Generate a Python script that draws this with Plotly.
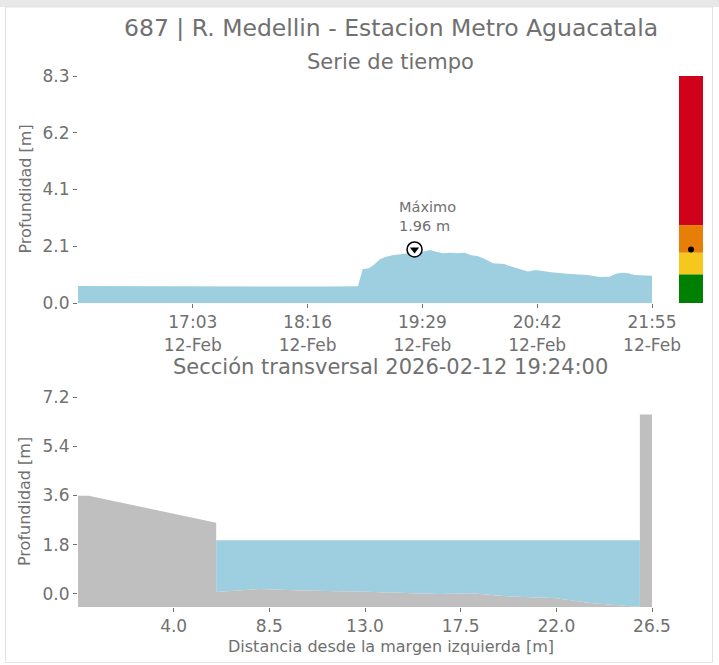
import plotly.graph_objects as go

# ---------------- data ----------------
station_title = "687 | R. Medellin - Estacion Metro Aguacatala"
ts_title = "Serie de tiempo"
sec_title = "Sección transversal 2026-02-12 19:24:00"

ts_times = [
    "2026-02-12 15:50", "2026-02-12 16:30", "2026-02-12 17:10", "2026-02-12 17:50",
    "2026-02-12 18:30", "2026-02-12 18:48", "2026-02-12 18:50", "2026-02-12 18:51",
    "2026-02-12 18:55", "2026-02-12 18:58", "2026-02-12 19:02", "2026-02-12 19:06",
    "2026-02-12 19:10", "2026-02-12 19:15", "2026-02-12 19:20", "2026-02-12 19:26",
    "2026-02-12 19:31", "2026-02-12 19:34", "2026-02-12 19:37", "2026-02-12 19:42",
    "2026-02-12 19:47", "2026-02-12 19:51", "2026-02-12 19:56", "2026-02-12 20:00",
    "2026-02-12 20:04", "2026-02-12 20:08", "2026-02-12 20:14", "2026-02-12 20:21",
    "2026-02-12 20:24", "2026-02-12 20:29", "2026-02-12 20:36", "2026-02-12 20:41",
    "2026-02-12 20:51", "2026-02-12 21:01", "2026-02-12 21:14", "2026-02-12 21:22",
    "2026-02-12 21:28", "2026-02-12 21:32", "2026-02-12 21:36", "2026-02-12 21:40",
    "2026-02-12 21:44", "2026-02-12 21:55",
]
ts_depth = [
    0.62, 0.61, 0.61, 0.60,
    0.60, 0.61, 1.09, 1.23,
    1.27, 1.39, 1.60, 1.69,
    1.75, 1.79, 1.82, 1.84,
    1.91, 1.94, 1.88, 1.82,
    1.84, 1.82, 1.84, 1.75,
    1.72, 1.63, 1.45, 1.43,
    1.36, 1.27, 1.15, 1.21,
    1.12, 1.07, 1.02, 0.95,
    0.96, 1.07, 1.11, 1.09,
    1.02, 1.00,
]
ts_range = ["2026-02-12 15:50", "2026-02-12 21:55"]
ts_tickvals = ["2026-02-12 17:03", "2026-02-12 18:16", "2026-02-12 19:29",
               "2026-02-12 20:42", "2026-02-12 21:55"]
ts_ticktext = ["17:03<br>12-Feb", "18:16<br>12-Feb", "19:29<br>12-Feb",
               "20:42<br>12-Feb", "21:55<br>12-Feb"]
ts_yticks = [0.0, 2.075, 4.15, 6.225, 8.3]
ts_yticktext = ["0.0", "2.1", "4.1", "6.2", "8.3"]

max_time = "2026-02-12 19:24"
max_depth = 1.96

# alert level bands (base, top)
level_base = [0.0, 1.05, 1.84, 2.85]
level_top = [1.05, 1.84, 2.85, 8.3]
level_colors = ["#008000", "#f6c81d", "#e67e07", "#d0011b"]

# cross section profile (bed elevation along the section)
sec_x = [-0.5, 0.0, 6.0, 6.0, 8.07, 10.0, 13.0, 16.5, 18.0, 19.8, 21.9, 23.6, 25.93, 25.93, 26.5]
sec_z = [3.59, 3.59, 2.60, 0.07, 0.18, 0.12, 0.08, 0.00, 0.02, -0.10, -0.15, -0.33, -0.48, 6.56, 6.56]
water_x = [6.0, 8.07, 10.0, 13.0, 16.5, 18.0, 19.8, 21.9, 23.6, 25.93]
water_bed = [0.07, 0.18, 0.12, 0.08, 0.00, 0.02, -0.10, -0.15, -0.33, -0.48]
water_level = 1.96
sec_xticks = [4.0, 8.5, 13.0, 17.5, 22.0, 26.5]
sec_yticks = [0.0, 1.8, 3.6, 5.4, 7.2]
sec_yrange = [-0.48, 7.2]
sec_xrange = [-0.5, 26.5]

# ---------------- styling ----------------
W, H = 719, 665
ML, MR, MT, MB = 78, 16, 76, 58
PW, PH = W - ML - MR, H - MT - MB
TXT = "#707070"
FONT = "DejaVu Sans"
WATER = "#9ecfe0"
GROUND = "#bfbfbf"


def px(xp):
    return (xp - ML) / PW


def py(yp):
    return (H - MB - yp) / PH


fig = go.Figure()

# time series
fig.add_trace(go.Scatter(x=ts_times, y=ts_depth, mode="lines", fill="tozeroy",
                         line=dict(color=WATER, width=0), fillcolor=WATER,
                         xaxis="x", yaxis="y", hoverinfo="skip"))
fig.add_trace(go.Scatter(x=[max_time], y=[max_depth], mode="markers",
                         marker=dict(symbol="circle", size=15, color="white",
                                     line=dict(color="black", width=1.5)),
                         xaxis="x", yaxis="y"))
fig.add_trace(go.Scatter(x=[max_time], y=[max_depth], mode="markers",
                         marker=dict(symbol="triangle-down", size=8, color="black"),
                         xaxis="x", yaxis="y"))

# level bar
for b, t, c in zip(level_base, level_top, level_colors):
    fig.add_trace(go.Bar(x=[0], y=[t - b], base=[b], width=1, marker=dict(color=c, line=dict(width=0)),
                         xaxis="x2", yaxis="y"))
fig.add_trace(go.Scatter(x=[0.0], y=[max_depth], mode="markers",
                         marker=dict(color="black", size=6), xaxis="x2", yaxis="y"))

# cross section
fig.add_trace(go.Scatter(x=water_x + water_x[::-1],
                         y=water_bed + [water_level] * len(water_x),
                         mode="lines", fill="toself", fillcolor=WATER,
                         line=dict(width=0, color=WATER), xaxis="x3", yaxis="y3"))
ymin = sec_yrange[0]
fig.add_trace(go.Scatter(x=sec_x + [sec_x[-1], sec_x[0]], y=sec_z + [ymin, ymin],
                         mode="lines", fill="toself", fillcolor=GROUND,
                         line=dict(width=0, color=GROUND), xaxis="x3", yaxis="y3"))

axis_common = dict(showgrid=False, zeroline=False, showline=False, ticks="outside",
                   ticklen=4, tickcolor=TXT, tickwidth=1, automargin=False,
                   tickfont=dict(family=FONT, size=17, color=TXT))

fig.update_layout(
    width=W, height=H, autosize=False,
    margin=dict(l=ML, r=MR, t=MT, b=MB, autoexpand=False),
    paper_bgcolor="white", plot_bgcolor="white", showlegend=False,
    barmode="overlay",
    font=dict(family=FONT, color=TXT),
    xaxis=dict(domain=[0, px(652)], type="date", range=ts_range,
               tickmode="array", tickvals=ts_tickvals, ticktext=ts_ticktext,
               anchor="y", **axis_common),
    yaxis=dict(domain=[py(303), 1.0], range=[0, 8.3], tickmode="array",
               tickvals=ts_yticks, ticktext=ts_yticktext, anchor="x", **axis_common),
    xaxis2=dict(domain=[px(679), px(703)], range=[-0.5, 0.5], visible=False, anchor="y"),
    xaxis3=dict(domain=[0, px(652)], range=sec_xrange, tickmode="array",
                tickvals=sec_xticks, ticktext=[f"{v:.1f}" for v in sec_xticks],
                anchor="y3", **axis_common),
    yaxis3=dict(domain=[0, py(397)], range=sec_yrange, tickmode="array",
                tickvals=sec_yticks, ticktext=[f"{v:.1f}" for v in sec_yticks],
                anchor="x3", **axis_common),
)

ann = [
    dict(text=station_title, x=0.5, y=py(28), size=23.5),
    dict(text=ts_title, x=0.5, y=py(62), size=21),
    dict(text=sec_title, x=0.5, y=py(367), size=21),
    dict(text="Distancia desde la margen izquierda [m]", x=0.5, y=py(646), size=16),
]
for a in ann:
    fig.add_annotation(text=a["text"], x=a["x"], y=a["y"], xref="paper", yref="paper",
                       xanchor="center", yanchor="middle", showarrow=False,
                       font=dict(family=FONT, size=a["size"], color=TXT))
for yc in (py(189.5), py(502)):
    fig.add_annotation(text="Profundidad [m]", x=px(25), y=yc, xref="paper", yref="paper",
                       xanchor="center", yanchor="middle", showarrow=False, textangle=-90,
                       font=dict(family=FONT, size=16, color=TXT))
fig.add_annotation(text=f"Máximo<br>{max_depth:.2f} m", x=max_time, y=max_depth,
                   xref="x", yref="y", xanchor="left", yanchor="bottom", align="left",
                   xshift=-18, yshift=13, showarrow=False,
                   font=dict(family=FONT, size=14.5, color=TXT))

# card frame
fig.add_shape(type="rect", xref="paper", yref="paper", x0=px(0), x1=px(719), y0=py(7), y1=py(0),
              fillcolor="#e8e8e8", line=dict(width=0), layer="below")
fig.add_shape(type="rect", xref="paper", yref="paper", x0=px(5.5), x1=px(712.5), y0=py(662.5), y1=py(7),
              fillcolor="rgba(0,0,0,0)", line=dict(width=1, color="#e2e2e2"), layer="below")

page_fix = "document.body.style.margin='0';document.body.style.overflow='hidden';"

fig.write_html("out.html", post_script=page_fix, config={"displayModeBar": False})
